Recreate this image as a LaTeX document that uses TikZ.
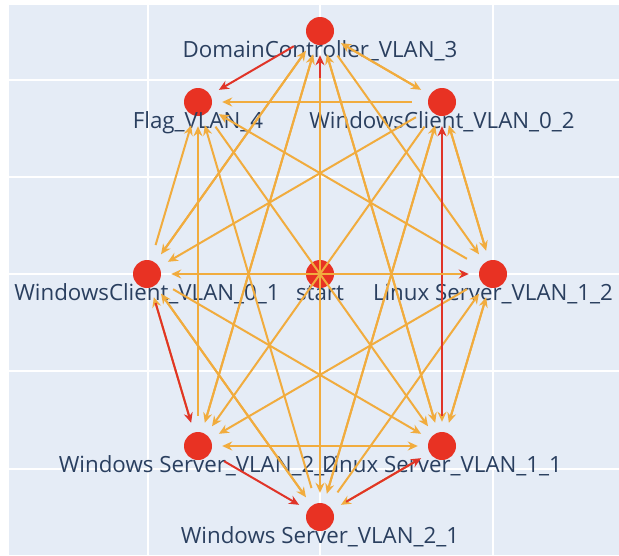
\documentclass[tikz,border=0pt]{standalone}
\usepackage{fontspec}
\setmainfont{Open Sans}
\usepackage{xcolor}
\usetikzlibrary{arrows.meta}
\definecolor{plotbg}{HTML}{E5ECF6}
\definecolor{hostred}{RGB}{232,50,35}
\definecolor{hoporange}{RGB}{241,172,62}
\definecolor{hopred}{RGB}{224,52,40}
\definecolor{labelblue}{HTML}{2A3F5F}

\begin{document}
\begin{tikzpicture}[x=1pt, y=-1pt,
        host/.style={circle, fill=hostred, minimum size=28pt, inner sep=0pt},
        hostlabel/.style={text=labelblue, font=\fontsize{22.3}{26}\selectfont, anchor=base, yshift=-26pt},
        hop/.style={draw=hoporange, line width=2pt, -{Stealth[length=10pt,width=9pt]}, shorten <=16pt, shorten >=10pt},
        redhop/.style={hop, draw=hopred},
        gridline/.style={white, line width=2pt}]
        \useasboundingbox (0,0) rectangle (619,555);
        \fill[plotbg] (9,5) rectangle (619,555);
        \draw[gridline] (148,5) -- (148,555);
        \draw[gridline] (320,5) -- (320,555);
        \draw[gridline] (493,5) -- (493,555);
        \draw[gridline] (9,80) -- (619,80);
        \draw[gridline] (9,177) -- (619,177);
        \draw[gridline] (9,274) -- (619,274);
        \draw[gridline] (9,371) -- (619,371);
        \draw[gridline] (9,469) -- (619,469);

        % hosts
        \node[host] (dc) at (320,31) {};
        \node[host] (flag) at (198,102) {};
        \node[host] (wc02) at (442,102) {};
        \node[host] (wc01) at (147,274) {};
        \node[host] (start) at (320,274) {};
        \node[host] (ls12) at (493,274) {};
        \node[host] (ws22) at (198,446) {};
        \node[host] (ls11) at (442,446) {};
        \node[host] (ws21) at (320,517) {};

        \node[hostlabel] (dctext) at (dc) {DomainController\_VLAN\_3};
        \node[hostlabel] (flagtext) at (flag) {Flag\_VLAN\_4};
        \node[hostlabel] (wc02text) at (wc02) {WindowsClient\_VLAN\_0\_2};
        \node[hostlabel] (wc01text) at (wc01) {WindowsClient\_VLAN\_0\_1};
        \node[hostlabel] (starttext) at (start) {start};
        \node[hostlabel] (ls12text) at (ls12) {Linux Server\_VLAN\_1\_2};
        \node[hostlabel] (ws22text) at (ws22) {Windows Server\_VLAN\_2\_2};
        \node[hostlabel] (ls11text) at (ls11) {Linux Server\_VLAN\_1\_1};
        \node[hostlabel] (ws21text) at (ws21) {Windows Server\_VLAN\_2\_1};

        % reachable hops
        \draw[hop] (dc) -- (wc02);
        \draw[hop] (wc02) -- (dc);
        \draw[hop] (dc) -- (ls12);
        \draw[hop] (dc) -- (wc01);
        \draw[hop] (wc01) -- (dc);
        \draw[hop] (ls11) -- (dc);
        \draw[hop] (dc) -- (ls11);
        \draw[hop] (dc) -- (ws22);
        \draw[hop] (ws22) -- (dc);
        \draw[hop] (wc02) -- (flag);
        \draw[hop] (wc02) -- (ls12);
        \draw[hop] (ls12) -- (wc02);
        \draw[hop] (wc02) -- (ls11);
        \draw[hop] (wc02) -- (wc01);
        \draw[hop] (wc02) -- (ws21);
        \draw[hop] (ws21) -- (wc02);
        \draw[hop] (wc02) -- (ws22);
        \draw[hop] (wc01) -- (flag);
        \draw[hop] (ls12) -- (flag);
        \draw[hop] (flag) -- (ls11);
        \draw[hop] (ws22) -- (flag);
        \draw[hop] (ws21) -- (flag);
        \draw[hop] (ls12) -- (ls11);
        \draw[hop] (ls11) -- (ls12);
        \draw[hop] (ws21) -- (ls12);
        \draw[hop] (ls12) -- (ws22);
        \draw[hop] (ls11) -- (ws21);
        \draw[hop] (ws22) -- (ls11);
        \draw[hop] (ls11) -- (ws22);
        \draw[hop] (wc01) -- (ls11);
        \draw[hop] (ws21) -- (wc01);
        \draw[hop] (wc01) -- (ws21);
        \draw[hop] (ws22) -- (wc01);
        \draw[hop, line width=2.6pt, shorten <=-14pt] (start) -- (wc01);

        % exploited hops
        \draw[redhop] (dc) -- (flag);
        \draw[redhop] (ls11) -- (wc02);
        \draw[redhop] (ws22) -- (ws21);
        \draw[redhop] (ws21) -- (ls11);
        \draw[redhop] (wc01) -- (ws22);
        \draw[redhop, shorten <=-14pt] (start) -- (dc);
        \draw[hop, shorten <=33pt] (dc) -- (ws21);
        \draw[hop, line width=2.6pt, shorten <=-14pt, -{Stealth[length=10pt,width=9pt,color=hopred]}] (start) -- (ls12);
\end{tikzpicture}
\end{document}
